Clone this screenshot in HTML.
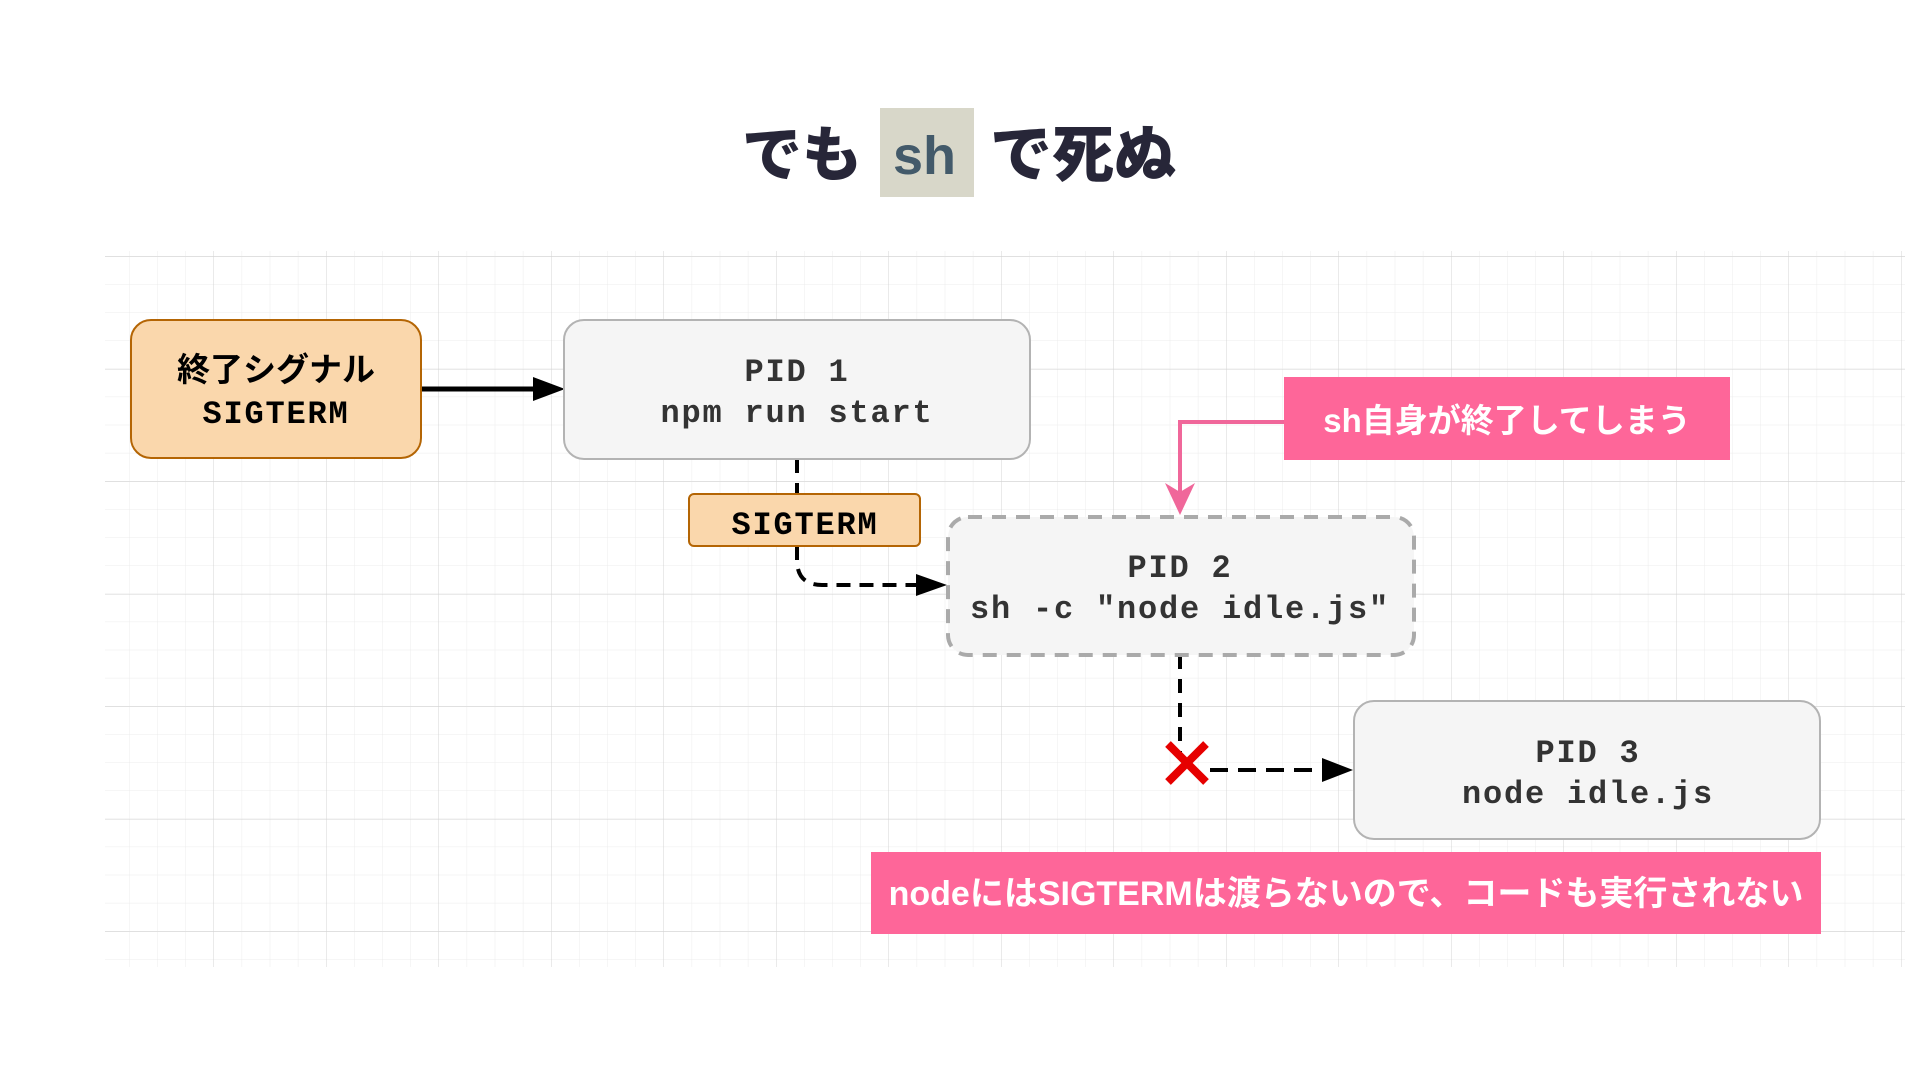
<!DOCTYPE html>
<html><head><meta charset="utf-8"><style>
html,body{margin:0;padding:0;background:#fff;width:1920px;height:1080px;overflow:hidden;position:relative}
.t{position:absolute;font-family:"Liberation Sans","Noto Sans CJK JP",sans-serif;font-weight:900;color:#272638;font-size:60px;line-height:1;top:126px;white-space:nowrap}
</style></head><body>
<svg width="1920" height="1080" style="position:absolute;left:0;top:0">
<defs>
<pattern id="minor" x="101" y="256" width="28.125" height="28.125" patternUnits="userSpaceOnUse"><path d="M0 0V28.125M0 0H28.125" stroke="#ececec" stroke-width="1" fill="none"/></pattern>
<pattern id="major" x="101" y="256.5" width="112.5" height="112.5" patternUnits="userSpaceOnUse"><path d="M0 0V112.5M0 0H112.5" stroke="#d4d4d4" stroke-width="1" fill="none"/></pattern>
</defs>
<rect x="105" y="251" width="1800" height="716" fill="url(#minor)"/>
<rect x="105" y="251" width="1800" height="716" fill="url(#major)"/>
<rect x="880" y="108" width="94" height="89" fill="#d8d7c9"/>
<line x1="422" y1="389" x2="540" y2="389" stroke="#000" stroke-width="5"/>
<path d="M533 377L565 389L533 401z" fill="#000"/>
<path d="M797 459V493" stroke="#000" stroke-width="4" stroke-dasharray="14 10"/>
<path d="M797 546V560Q797 585 822 585H920" stroke="#000" stroke-width="4" fill="none" stroke-dasharray="14 9"/>
<path d="M916 574L947 585L916 596z" fill="#000"/>
<path d="M1180 655V752" stroke="#000" stroke-width="4" stroke-dasharray="14 10"/>
<path d="M1210 770H1325" stroke="#000" stroke-width="4" stroke-dasharray="18 10"/>
<path d="M1322 758L1353 770L1322 782z" fill="#000"/>
<path d="M1284 422H1180V500" stroke="#f0679a" stroke-width="4" fill="none"/>
<path d="M1165 483L1180 515L1195 483L1180 492z" fill="#f0679a"/>
<rect x="131" y="320" width="290" height="138" rx="20" fill="#fad7ac" stroke="#b46504" stroke-width="2"/>
<rect x="564" y="320" width="466" height="139" rx="20" fill="#f5f5f5" stroke="#b3b3b3" stroke-width="2"/>
<rect x="689" y="494" width="231" height="52" rx="5" fill="#fad7ac" stroke="#b46504" stroke-width="2"/>
<rect x="948" y="517" width="466" height="138" rx="20" fill="#f5f5f5" stroke="#aaa" stroke-width="4" stroke-dasharray="14 10"/>
<rect x="1354" y="701" width="466" height="138" rx="20" fill="#f5f5f5" stroke="#b3b3b3" stroke-width="2"/>
<rect x="1284" y="377" width="446" height="83" fill="#fe6699"/>
<rect x="871" y="852" width="950" height="82" fill="#fe6699"/>
<path d="M1168 744L1206 782M1206 744L1168 782" stroke="#e60000" stroke-width="8"/>
<g font-family="'Liberation Mono','DejaVu Sans Mono',monospace" font-weight="bold" font-size="32" letter-spacing="1.8" fill="#333" text-anchor="middle">
<text x="797" y="381">PID 1</text><text x="797" y="422">npm run start</text>
<text x="1180" y="577">PID 2</text><text x="1180" y="618">sh -c "node idle.js"</text>
<text x="1588" y="762">PID 3</text><text x="1588" y="803">node idle.js</text>
<text x="805" y="534" fill="#000">SIGTERM</text>
<text x="276" y="423" fill="#000">SIGTERM</text>
</g>
<g font-family="'Liberation Sans','Noto Sans CJK JP',sans-serif" font-weight="bold" text-anchor="middle">
<text x="276" y="381" font-size="33" fill="#000">終了シグナル</text>
<text x="1507" y="432" font-size="33" fill="#fff">sh自身が終了してしまう</text>
<text x="1346" y="905" font-size="34" fill="#fff">nodeにはSIGTERMは渡らないので、コードも実行されない</text>
</g>
</svg>
<div class="t" style="left:742px">でも</div>
<div class="t" style="left:893px;color:#435a6a;font-size:54px;top:129px">sh</div>
<div class="t" style="left:990px;font-size:62px;top:125px">で死ぬ</div>
</body></html>
